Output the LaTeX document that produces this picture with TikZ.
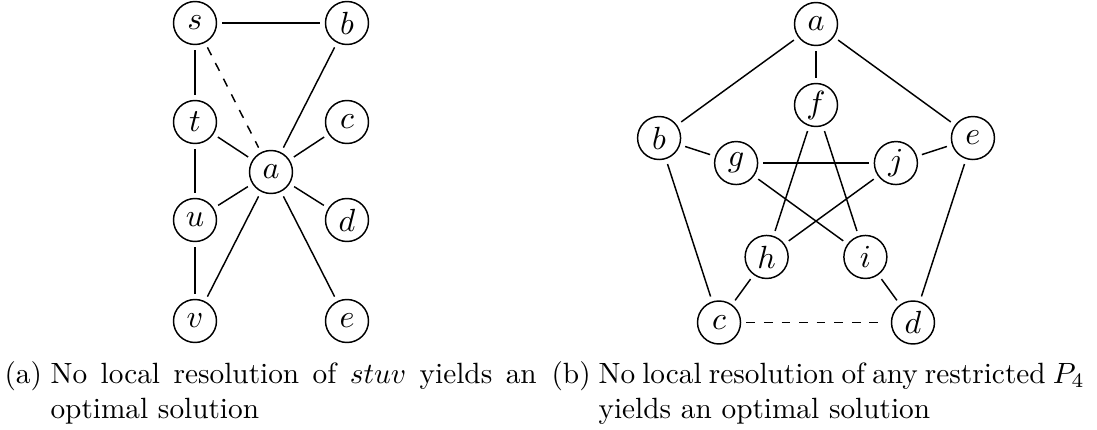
\documentclass[tikz,border=0pt]{standalone}
\begin{document}
\begin{tikzpicture}[
        vtx/.style={draw, circle, line width=0.5pt, minimum size=0.516cm, inner sep=0pt, outer sep=2pt, font=\fontsize{11}{13}\selectfont},
        edge/.style={line width=0.5pt},
        sublabel/.style={inner sep=0pt, anchor=base west},
        captext/.style={inner sep=0pt, anchor=north west, text width=166pt, align=justify, execute at begin node={\sloppy\hyphenpenalty=10000}}]
            \useasboundingbox (0,0) rectangle (13.164,5.148);
            % (a)
            \node[vtx] (s) at (2.34,4.872) {$s$};
            \node[vtx] (lb) at (4.164,4.872) {$b$};
            \node[vtx] (t) at (2.34,3.684) {$t$};
            \node[vtx] (lc) at (4.164,3.684) {$c$};
            \node[vtx] (la) at (3.252,3.084) {$a$};
            \node[vtx] (u) at (2.34,2.508) {$u$};
            \node[vtx] (ld) at (4.164,2.508) {$d$};
            \node[vtx] (v) at (2.34,1.296) {$v$};
            \node[vtx] (le) at (4.164,1.296) {$e$};
            \draw[edge] (s) -- (lb);
            \draw[edge] (s) -- (t) -- (u) -- (v);
            \foreach \n in {lb,lc,ld,le,t,u,v}
                \draw[edge] (la) -- (\n);
            \draw[edge, dashed] (s) -- (la);
            % (b)
            \begin{scope}[shift={(9.792,2.88)}]
                \foreach \n/\ang in {a/90, b/162, c/234, d/306, e/18}
                    \node[vtx] (p\n) at (\ang:1.98) {$\n$};
                \foreach \n/\ang in {f/90, g/162, h/234, i/306, j/18}
                    \node[vtx] (p\n) at (\ang:1.008) {$\n$};
            \end{scope}
            \foreach \x/\y in {a/b, a/e, a/f, b/c, b/g, e/d, e/j, c/h, d/i, f/h, f/i, g/j, g/i, j/h}
                \draw[edge] (p\x) -- (p\y);
            \draw[edge, dashed] (pc) -- (pd);
            % captions
            \node[sublabel] (capa) at (0.048,0.552) {\strut(a)};
            \node[captext] (txta) at (0.6,0 |- capa.north) {\strut No local resolution of $stuv$ yields an optimal solution};
            \node[sublabel] (capb) at (6.612,0.552) {\strut(b)};
            \node[captext] (txtb) at (7.176,0 |- capb.north) {\strut No local resolution of any restricted $P_4$ yields an optimal solution};
        \end{tikzpicture}
\end{document}
